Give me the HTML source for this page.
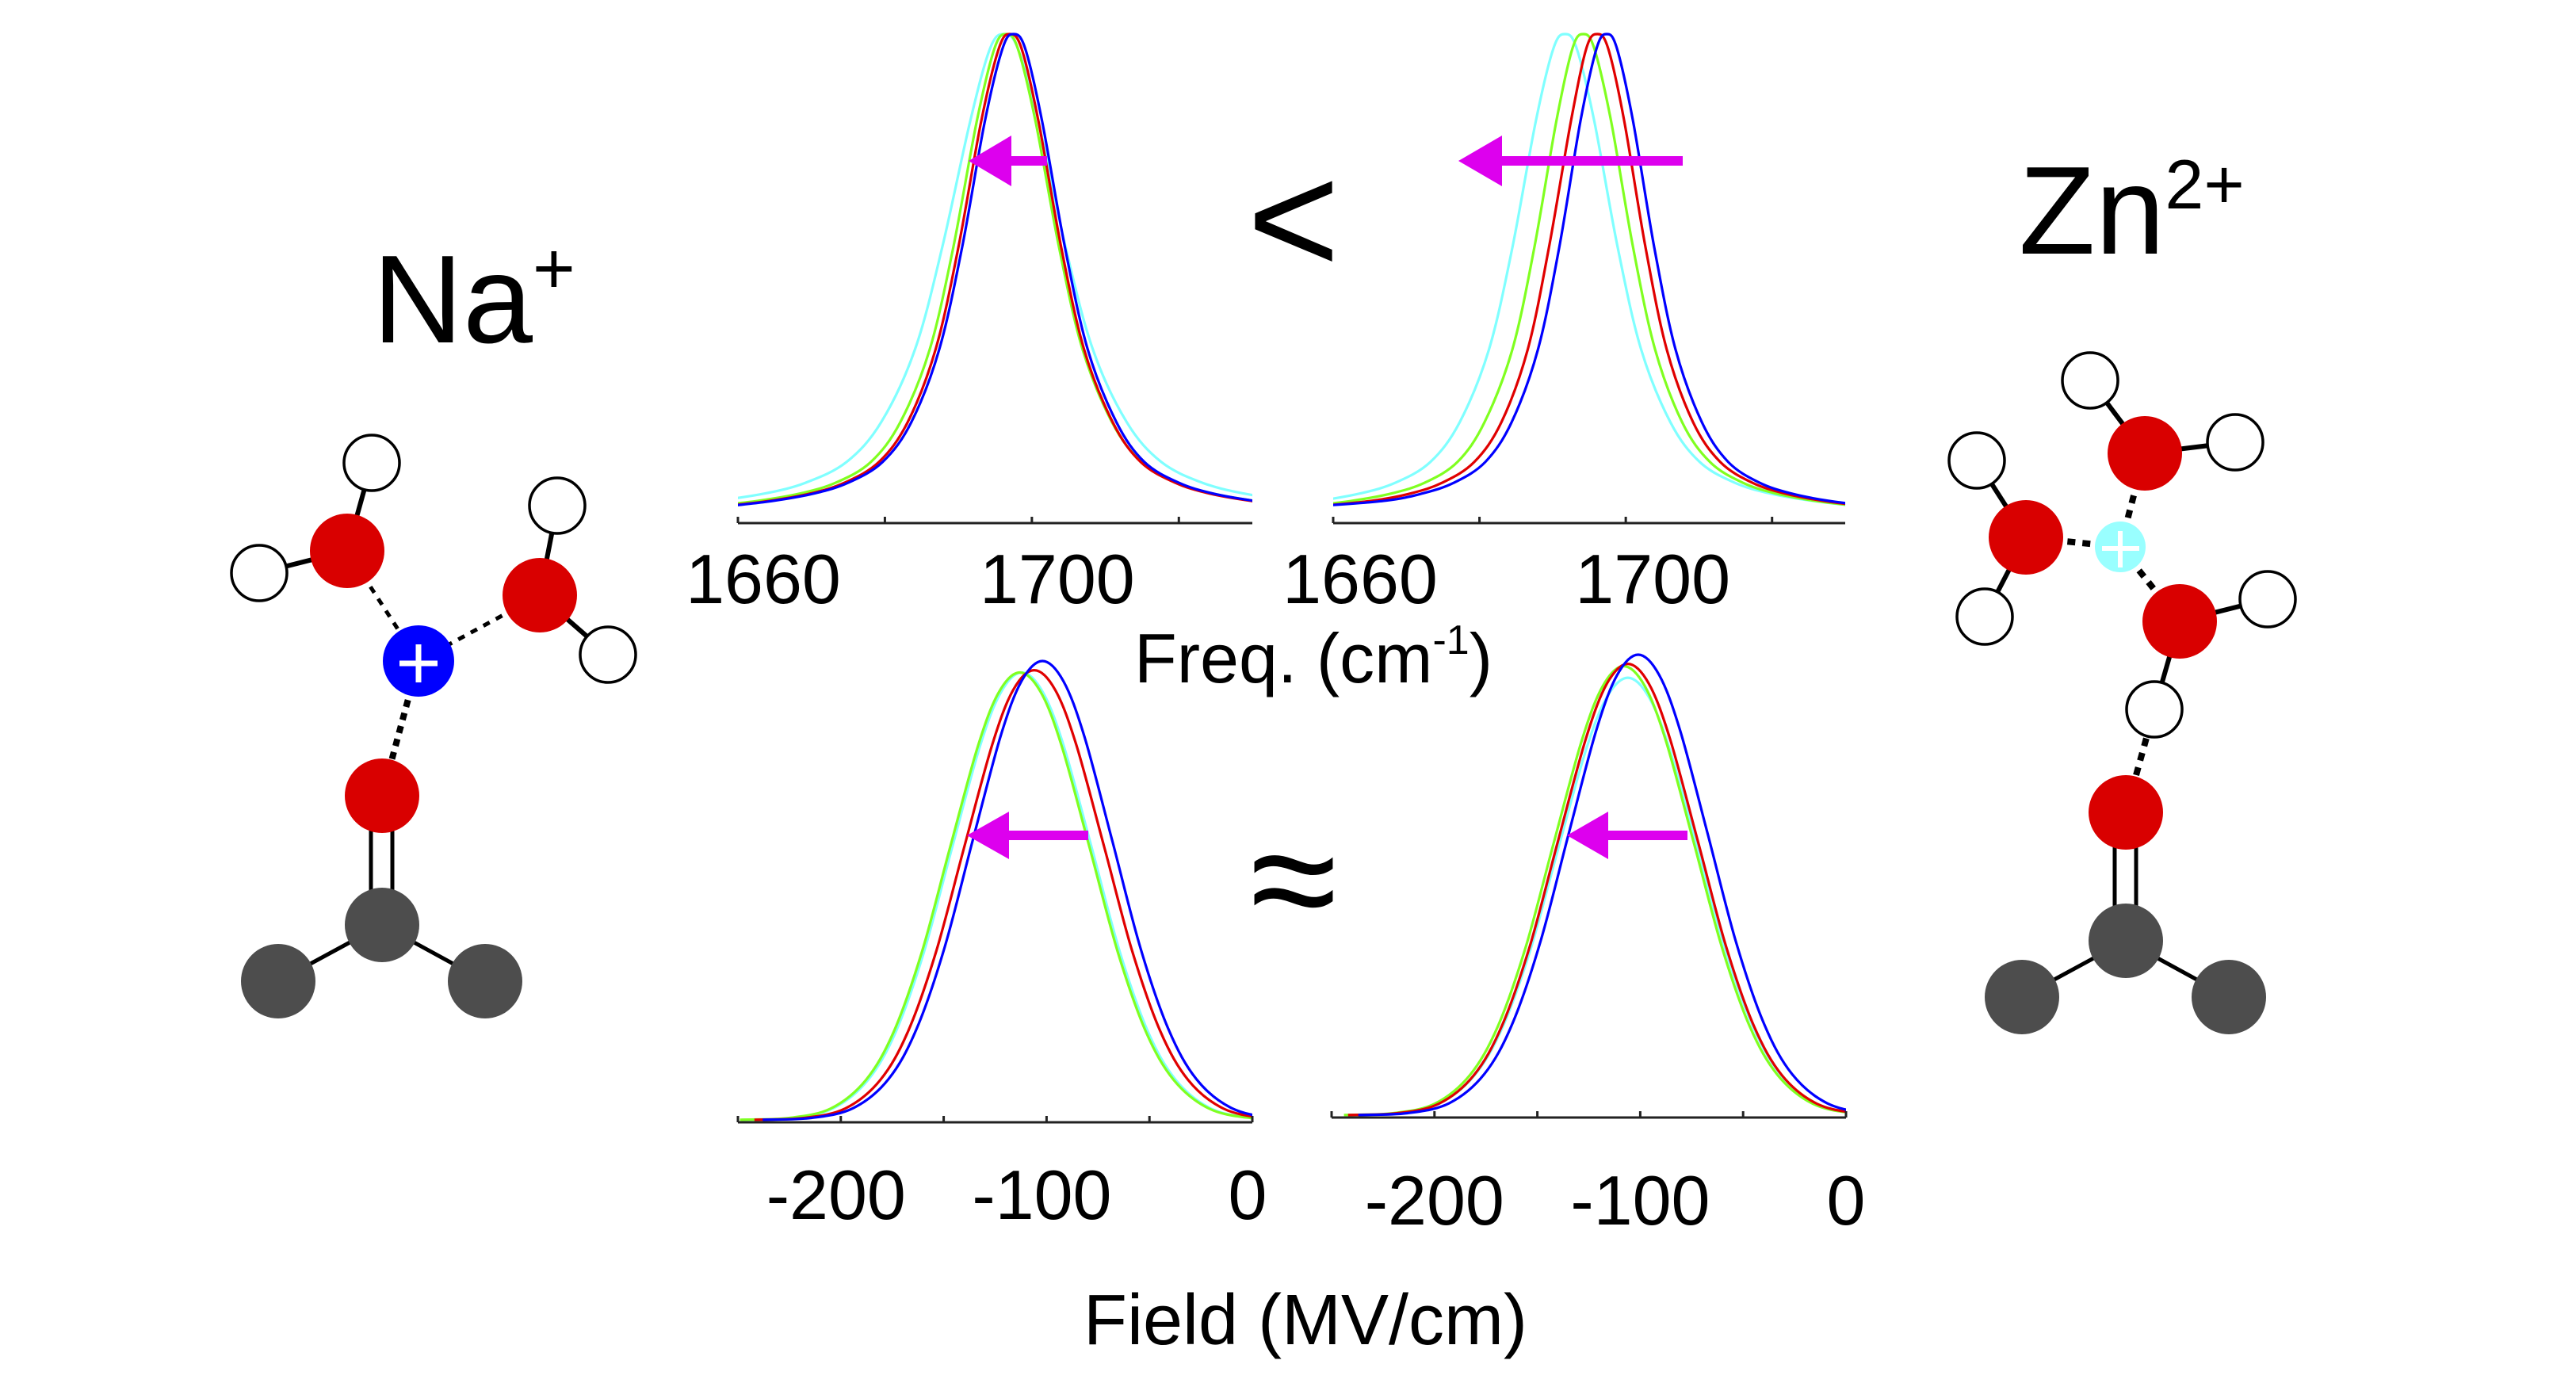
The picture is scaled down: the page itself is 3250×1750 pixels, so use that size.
<!DOCTYPE html>
<html><head><meta charset="utf-8">
<style>
html,body{margin:0;padding:0;background:#fff;}
svg{display:block;}
text{font-family:"Liberation Sans",sans-serif;fill:#000;}
</style></head>
<body>
<svg id="fig" width="3250" height="1750" viewBox="0 0 3250 1750" xmlns="http://www.w3.org/2000/svg">
<rect width="3250" height="1750" fill="#fff"/>

<!-- Titles -->
<text x="470" y="432" font-size="158">Na<tspan font-size="92" dy="-62">+</tspan></text>
<text x="2547" y="320" font-size="158">Zn<tspan font-size="88" dy="-57">2+</tspan></text>

<!-- comparison symbols -->
<text x="1632" y="345" font-size="200" text-anchor="middle">&lt;</text>
<text x="1632" y="1178" font-size="200" text-anchor="middle">≈</text>

<!-- axis titles -->
<text x="1431" y="861" font-size="88">Freq. (cm<tspan font-size="52" dy="-36">-1</tspan><tspan dy="36">)</tspan></text>
<text x="1367" y="1696" font-size="90">Field (MV/cm)</text>

<g id="panels"></g>

<!-- arrows -->
<g fill="#dd00ee">
  <polygon points="1321,197 1276,197 1276,171 1222,203 1276,235 1276,209 1321,209"/>
  <polygon points="2123,197 1895,197 1895,171 1840,203 1895,235 1895,209 2123,209"/>
  <polygon points="1373,1048 1273,1048 1273,1024 1220,1054 1273,1084 1273,1060 1373,1060"/>
  <polygon points="2129,1048 2029,1048 2029,1024 1977,1054 2029,1084 2029,1060 2129,1060"/>
</g>

<!-- Na+ molecule -->
<g>
  <g stroke="#000" stroke-width="6" fill="none">
    <line x1="438" y1="695" x2="469" y2="584"/>
    <line x1="438" y1="695" x2="327" y2="723"/>
    <line x1="681" y1="751" x2="703" y2="638"/>
    <line x1="681" y1="751" x2="767" y2="826"/>
    <line x1="351" y1="1238" x2="482" y2="1167" stroke-width="5"/>
    <line x1="612" y1="1238" x2="482" y2="1167" stroke-width="5"/>
    <line x1="468" y1="1004" x2="468" y2="1167" stroke-width="5"/>
    <line x1="495" y1="1004" x2="495" y2="1167" stroke-width="5"/>
    <line x1="438" y1="695" x2="528" y2="834" stroke-dasharray="9,9" stroke-width="5"/>
    <line x1="681" y1="751" x2="528" y2="834" stroke-dasharray="9,9" stroke-width="5"/>
    <line x1="528" y1="834" x2="482" y2="1004" stroke-dasharray="9,8" stroke-width="8"/>
  </g>
  <g stroke="#000" stroke-width="3.5" fill="#fff">
    <circle cx="469" cy="584" r="35"/>
    <circle cx="327" cy="723" r="35"/>
    <circle cx="703" cy="638" r="35"/>
    <circle cx="767" cy="826" r="35"/>
  </g>
  <circle cx="438" cy="695" r="47" fill="#d90000"/>
  <circle cx="681" cy="751" r="47" fill="#d90000"/>
  <circle cx="482" cy="1004" r="47" fill="#d90000"/>
  <circle cx="482" cy="1167" r="47" fill="#4d4d4d"/>
  <circle cx="351" cy="1238" r="47" fill="#4d4d4d"/>
  <circle cx="612" cy="1238" r="47" fill="#4d4d4d"/>
  <circle cx="528" cy="834" r="45" fill="#0000ff"/>
  <g stroke="#fff" stroke-width="7"><line x1="504" y1="837" x2="552" y2="837"/><line x1="528" y1="813" x2="528" y2="861"/></g>
</g>

<!-- Zn2+ molecule -->
<g>
  <g stroke="#000" stroke-width="6" fill="none">
    <line x1="2706" y1="572" x2="2637" y2="480"/>
    <line x1="2706" y1="572" x2="2820" y2="558"/>
    <line x1="2556" y1="678" x2="2494" y2="581"/>
    <line x1="2556" y1="678" x2="2504" y2="778"/>
    <line x1="2750" y1="784" x2="2861" y2="756"/>
    <line x1="2750" y1="784" x2="2718" y2="895"/>
    <line x1="2551" y1="1258" x2="2682" y2="1187" stroke-width="5"/>
    <line x1="2812" y1="1258" x2="2682" y2="1187" stroke-width="5"/>
    <line x1="2668" y1="1025" x2="2668" y2="1187" stroke-width="5"/>
    <line x1="2695" y1="1025" x2="2695" y2="1187" stroke-width="5"/>
    <line x1="2675" y1="690" x2="2706" y2="572" stroke-dasharray="10,9" stroke-width="8"/>
    <line x1="2675" y1="690" x2="2556" y2="678" stroke-dasharray="10,9" stroke-width="8"/>
    <line x1="2675" y1="690" x2="2750" y2="784" stroke-dasharray="10,9" stroke-width="8"/>
    <line x1="2718" y1="895" x2="2682" y2="1025" stroke-dasharray="10,9" stroke-width="8"/>
  </g>
  <g stroke="#000" stroke-width="3.5" fill="#fff">
    <circle cx="2637" cy="480" r="35"/>
    <circle cx="2820" cy="558" r="35"/>
    <circle cx="2494" cy="581" r="35"/>
    <circle cx="2504" cy="778" r="35"/>
    <circle cx="2861" cy="756" r="35"/>
    <circle cx="2718" cy="895" r="35"/>
  </g>
  <circle cx="2706" cy="572" r="47" fill="#d90000"/>
  <circle cx="2556" cy="678" r="47" fill="#d90000"/>
  <circle cx="2750" cy="784" r="47" fill="#d90000"/>
  <circle cx="2682" cy="1025" r="47" fill="#d90000"/>
  <circle cx="2682" cy="1187" r="47" fill="#4d4d4d"/>
  <circle cx="2551" cy="1258" r="47" fill="#4d4d4d"/>
  <circle cx="2812" cy="1258" r="47" fill="#4d4d4d"/>
  <circle cx="2675" cy="690" r="32" fill="#99ffff"/>
  <g stroke="#fff" stroke-width="6"><line x1="2652" y1="692" x2="2699" y2="692"/><line x1="2675" y1="670" x2="2675" y2="716"/></g>
</g>
</svg>

<script>
// ---- data ----
const freqProfile = [0.027,0.038,0.053,0.075,0.118,0.2,0.35,0.56,0.82,0.97,1,0.97,0.82,0.56,0.35,0.2,0.118,0.075,0.053,0.038,0.027];
const naFreqBlueX  = [1658.8,1665,1670.4,1675,1679.7,1683.6,1687.4,1690.5,1693.6,1696,1697.5,1699.1,1701.4,1704.5,1707.6,1711.5,1715.3,1720,1724.6,1730.1,1736.3];
const naFreqRedX   = [1658.3,1664.5,1669.9,1674.5,1679.2,1683.1,1686.9,1690,1693.1,1695.5,1697,1698.6,1700.9,1704,1707.1,1711,1714.8,1719.5,1724.1,1729.6,1735.8];
const naFreqGreenX = [1656.5,1662.9,1668.5,1673.3,1678.1,1682.1,1686.1,1689.3,1692.5,1694.9,1696.5,1698.1,1700.5,1703.7,1706.9,1710.9,1714.9,1719.7,1724.5,1730.1,1736.5];
const naFreqCyanX  = [1649.7,1657.1,1663.7,1669.2,1674.8,1679.5,1684.1,1687.8,1691.6,1694.3,1696.2,1698.1,1700.9,1704.6,1708.3,1712.9,1717.6,1723.2,1728.8,1735.3,1742.7];
const znFreqBlueX  = [1658,1667.2,1672.2,1676.5,1680.8,1684.4,1688,1690.9,1693.8,1696,1697.4,1698.8,1701,1703.9,1706.8,1710.4,1714,1718.3,1722.6,1727.6,1733.4];
const znFreqRedX   = [1658,1665.4,1670.6,1674.9,1679.3,1683,1686.6,1689.5,1692.5,1694.6,1696.1,1697.6,1699.8,1702.7,1705.6,1709.2,1712.9,1717.3,1721.7,1726.8,1732.6];
const znFreqGreenX = [1656.7,1662.7,1668,1672.5,1677,1680.7,1684.5,1687.5,1690.5,1692.7,1694.2,1695.7,1698,1701,1704,1707.7,1711.5,1716,1720.5,1725.7,1731.7];
const znFreqCyanX  = [1651.7,1658.1,1663.7,1668.5,1673.3,1677.3,1681.3,1684.5,1687.7,1690.1,1691.7,1693.3,1695.7,1698.9,1702.1,1706.1,1710.1,1714.9,1719.7,1725.3,1731.7];

const fieldY100 = [0.0003,0.0043,0.026,0.089,0.198,0.375,0.607,0.835,0.956,1,0.956,0.835,0.607,0.375,0.198,0.089,0.026,0.0043,0.0003];
const fieldY98  = [0.0003,0.0042,0.025,0.087,0.194,0.368,0.595,0.818,0.937,0.98,0.937,0.818,0.595,0.368,0.194,0.087,0.025,0.0042,0.0003];
const fieldY975 = [0.0003,0.0042,0.025,0.087,0.193,0.366,0.592,0.814,0.932,0.975,0.932,0.814,0.592,0.366,0.193,0.087,0.025,0.0042,0.0003];
const fieldY95  = [0.0003,0.0041,0.025,0.085,0.188,0.356,0.577,0.793,0.908,0.95,0.908,0.793,0.577,0.356,0.188,0.085,0.025,0.0041,0.0003];
const naFieldBlueX  = [-238,-214.2,-193.8,-176.8,-163.2,-149.6,-136,-122.4,-112.2,-102,-91.8,-81.6,-68,-54.4,-40.8,-27.2,-10.2,10.2,34];
const naFieldRedX   = [-242,-218.2,-197.8,-180.8,-167.2,-153.6,-140,-126.4,-116.2,-106,-95.8,-85.6,-72,-58.4,-44.8,-31.2,-14.2,6.2,30];
const naFieldGreenX = [-249,-225.2,-204.8,-187.8,-174.2,-160.6,-147,-133.4,-123.2,-113,-102.8,-92.6,-79,-65.4,-51.8,-38.2,-21.2,-0.8,23];
const naFieldCyanX  = [-248,-224.2,-203.8,-186.8,-173.2,-159.6,-146,-132.4,-122.2,-112,-101.8,-91.6,-78,-64.4,-50.8,-37.2,-20.2,0.2,24];
const znFieldBlueX  = [-237,-213.2,-192.8,-175.8,-162.2,-148.6,-135,-121.4,-111.2,-101,-90.8,-80.6,-67,-53.4,-39.8,-26.2,-9.2,11.2,35];
const znFieldRedX   = [-242,-218.2,-197.8,-180.8,-167.2,-153.6,-140,-126.4,-116.2,-106,-95.8,-85.6,-72,-58.4,-44.8,-31.2,-14.2,6.2,30];
const znFieldGreenX = [-244,-220.2,-199.8,-182.8,-169.2,-155.6,-142,-128.4,-118.2,-108,-97.8,-87.6,-74,-60.4,-46.8,-33.2,-16.2,4.2,28];
const znFieldCyanX  = [-242,-218.2,-197.8,-180.8,-167.2,-153.6,-140,-126.4,-116.2,-106,-95.8,-85.6,-72,-58.4,-44.8,-31.2,-14.2,6.2,30];

const freqTicks = [1660,1680,1700,1720];
const freqTickLabels = [1660,1700];
const fieldTicks = [-250,-200,-150,-100,-50,0];
const fieldTickLabels = [-200,-100,0];

const seriesColors = ['#80ffff','#80ff20','#e00000','#0000ff'];
const seriesNames = ['cyan','green','red','blue'];

// ---- drawing ----
const NS = 'http://www.w3.org/2000/svg';
const root = document.getElementById('panels');
function mk(tag, attrs, parent){
  const e = document.createElementNS(NS, tag);
  for (const k in attrs) e.setAttribute(k, attrs[k]);
  (parent||root).appendChild(e);
  return e;
}
function smoothPath(pts){
  let d = 'M' + pts[0][0].toFixed(1) + ',' + pts[0][1].toFixed(1);
  for (let i = 0; i < pts.length - 1; i++){
    const p0 = pts[Math.max(0,i-1)], p1 = pts[i], p2 = pts[i+1], p3 = pts[Math.min(pts.length-1,i+2)];
    const c1x = p1[0] + (p2[0]-p0[0])/6, c1y = p1[1] + (p2[1]-p0[1])/6;
    const c2x = p2[0] - (p3[0]-p1[0])/6, c2y = p2[1] - (p3[1]-p1[1])/6;
    d += 'C' + c1x.toFixed(1)+','+c1y.toFixed(1)+' '+c2x.toFixed(1)+','+c2y.toFixed(1)+' '+p2[0].toFixed(1)+','+p2[1].toFixed(1);
  }
  return d;
}

const panels = [
  {id:'na-freq', px0:931, px1:1580, d0:1660, d1:1730, yZero:655, yOne:43, axisY:660, ticks:freqTicks, labels:freqTickLabels, labelOff:32, labelY:761,
   series:[[naFreqCyanX,freqProfile],[naFreqGreenX,freqProfile],[naFreqRedX,freqProfile],[naFreqBlueX,freqProfile]]},
  {id:'zn-freq', px0:1682, px1:2328, d0:1660, d1:1730, yZero:655, yOne:43, axisY:660, ticks:freqTicks, labels:freqTickLabels, labelOff:34, labelY:761,
   series:[[znFreqCyanX,freqProfile],[znFreqGreenX,freqProfile],[znFreqRedX,freqProfile],[znFreqBlueX,freqProfile]]},
  {id:'na-field', px0:931, px1:1580, d0:-250, d1:0, yZero:1413, yOne:834, axisY:1416, ticks:fieldTicks, labels:fieldTickLabels, labelOff:-6, labelY:1538,
   series:[[naFieldCyanX,fieldY975],[naFieldGreenX,fieldY975],[naFieldRedX,fieldY98],[naFieldBlueX,fieldY100]]},
  {id:'zn-field', px0:1680, px1:2329, d0:-250, d1:0, yZero:1407, yOne:826, axisY:1410, ticks:fieldTicks, labels:fieldTickLabels, labelOff:0, labelY:1545,
   series:[[znFieldCyanX,fieldY95],[znFieldGreenX,fieldY975],[znFieldRedX,fieldY98],[znFieldBlueX,fieldY100]]}
];

panels.forEach(p => {
  const sx = v => p.px0 + (v - p.d0) * (p.px1 - p.px0) / (p.d1 - p.d0);
  const sy = v => p.yZero + v * (p.yOne - p.yZero);
  const g = mk('g', {});
  
  
  const clip = mk('clipPath', {id:'clip-' + p.id}, g);
  mk('rect', {x:p.px0, y:0, width:p.px1 - p.px0, height:1750}, clip);
  const lines = mk('g', {'clip-path':'url(#clip-' + p.id + ')'}, g);
  p.series.forEach((s, i) => {
    const pts = s[0].map((x, j) => [sx(x), sy(s[1][j])]);
    const path = mk('path', {d:smoothPath(pts), fill:'none', stroke:seriesColors[i], 'stroke-width':3.2, 'stroke-linejoin':'round'}, lines);
    
    
  });
  const axis = mk('line', {x1:p.px0, x2:p.px1, y1:p.axisY, y2:p.axisY, stroke:'#222', 'stroke-width':3}, g);
  
  
  p.ticks.forEach(t => {
    const tk = mk('line', {x1:sx(t), x2:sx(t), y1:p.axisY, y2:p.axisY - 8, stroke:'#222', 'stroke-width':3}, g);
    
    
  });
  p.labels.forEach(t => {
    const tx = mk('text', {x:sx(t) + p.labelOff, y:p.labelY, 'font-size':88, 'text-anchor':'middle'}, g);
    tx.textContent = String(t);
    
    
  });
});
</script>
</body></html>
